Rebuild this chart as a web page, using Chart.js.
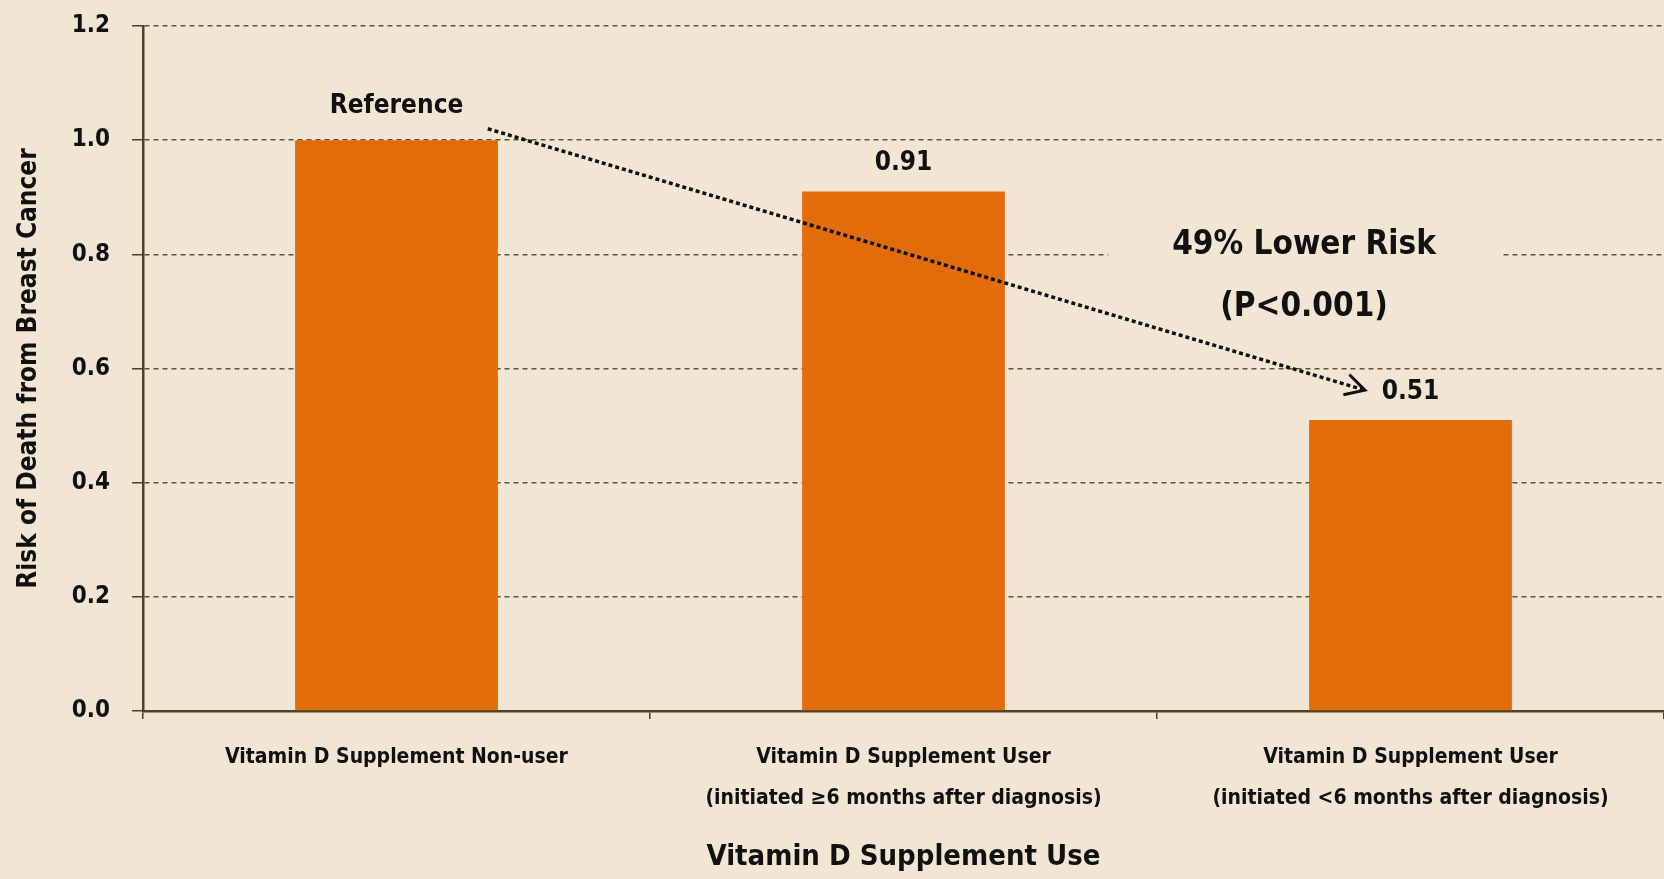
<!DOCTYPE html>
<html>
<head>
<meta charset="utf-8">
<script src="https://cdn.jsdelivr.net/npm/chart.js@4.4.1/dist/chart.umd.min.js"></script>
<style>
  html, body { margin: 0; padding: 0; background: #F0E6D3; }
  #wrap { width: 1664px; height: 879px; }
</style>
</head>
<body>
<div id="wrap"><canvas id="riskChart"></canvas></div>
<script>
// Data
const categories = [
    'Vitamin D Supplement Non-user',
    ['Vitamin D Supplement User', '(initiated \u22656 months after diagnosis)'],
    ['Vitamin D Supplement User', '(initiated <6 months after diagnosis)']
];
const riskValues = [1.0, 0.91, 0.51];
const valueLabels = ['Reference', '0.91', '0.51'];
const yTicks = [0, 0.2, 0.4, 0.6, 0.8, 1.0, 1.2];

// annotation: arrow from bar 1 toward bar 3, in (category index, value) units
const arrowFrom = [0.18, 1.02];
const arrowTo = [1.91, 0.562];
const noteLines = ['49% Lower Risk', '(P<0.001)'];
const notePos = [1.79, 0.815];

const FONT = '"DejaVu Sans Condensed", "Liberation Sans Narrow", "Roboto", sans-serif';
const BG = '#F0E6D3';
const INK = '#111111';

const labelPlugin = {
    id: 'barLabels',
    afterDatasetsDraw(chart) {
        const ctx = chart.ctx;
        const meta = chart.getDatasetMeta(0);
        const x = chart.scales.x;
        const y = chart.scales.y;
        ctx.save();

        // value labels above bars
        ctx.fillStyle = INK;
        ctx.font = 'bold 26px ' + FONT;
        ctx.textAlign = 'center';
        ctx.textBaseline = 'middle';
        meta.data.forEach(function(bar, i) {
            const off = i === 0 ? 34 : 28;
            ctx.fillText(valueLabels[i], bar.x, bar.y - off);
        });

        // annotation text with a background box over the gridlines
        ctx.font = 'bold 33px ' + FONT;
        const nx = x.getPixelForValue(notePos[0]);
        const ny = y.getPixelForValue(notePos[1]);
        const w = Math.max.apply(null, noteLines.map(function(t) { return ctx.measureText(t).width; }));
        ctx.fillStyle = BG;
        ctx.fillRect(nx - w / 2 - 64, ny - 30, w + 128, 62 + 30);
        ctx.fillStyle = INK;
        noteLines.forEach(function(t, i) {
            ctx.fillText(t, nx, ny + i * 62);
        });

        // dotted arrow
        const x1 = x.getPixelForValue(arrowFrom[0]);
        const y1 = y.getPixelForValue(arrowFrom[1]);
        const x2 = x.getPixelForValue(arrowTo[0]);
        const y2 = y.getPixelForValue(arrowTo[1]);
        ctx.strokeStyle = INK;
        ctx.lineWidth = 3.5;
        ctx.setLineDash([4, 3]);
        ctx.beginPath();
        ctx.moveTo(x1, y1);
        ctx.lineTo(x2, y2);
        ctx.stroke();
        ctx.setLineDash([]);
        const ang = Math.atan2(y2 - y1, x2 - x1);
        const len = 22;
        ctx.lineWidth = 3;
        ctx.beginPath();
        ctx.moveTo(x2 - len * Math.cos(ang - 0.5), y2 - len * Math.sin(ang - 0.5));
        ctx.lineTo(x2, y2);
        ctx.lineTo(x2 - len * Math.cos(ang + 0.5), y2 - len * Math.sin(ang + 0.5));
        ctx.stroke();

        ctx.restore();
    }
};

document.addEventListener('DOMContentLoaded', function() {
    const ctx = document.getElementById('riskChart');

    new Chart(ctx, {
        type: 'bar',
        data: {
            labels: categories,
            datasets: [{
                label: 'Risk',
                data: riskValues,
                backgroundColor: '#E36C0A',
                borderWidth: 0,
                categoryPercentage: 1.0,
                barPercentage: 0.4
            }]
        },
        options: {
            responsive: true,
            maintainAspectRatio: false,
            animation: false,
            layout: {
                padding: { top: 26, right: 0, bottom: 0, left: 0 }
            },
            plugins: {
                legend: { display: false },
                tooltip: { enabled: false }
            },
            scales: {
                y: {
                    min: 0,
                    max: 1.2,
                    afterFit: function(scale) {
                        scale.width = 143;
                        scale.paddingTop = 0;
                        scale.paddingBottom = 0;
                    },
                    afterBuildTicks: function(scale) {
                        scale.ticks = yTicks.map(function(v) { return { value: v }; });
                    },
                    ticks: {
                        color: INK,
                        padding: 22,
                        font: { family: FONT, size: 24, weight: 'bold' },
                        callback: function(v) { return Number(v).toFixed(1); }
                    },
                    grid: {
                        color: '#5C5439',
                        lineWidth: 1.5,
                        tickColor: '#4A4329',
                        tickLength: 11
                    },
                    border: {
                        color: '#4A4329',
                        width: 2.5,
                        dash: [5, 4]
                    },
                    title: {
                        display: true,
                        text: 'Risk of Death from Breast Cancer',
                        color: INK,
                        padding: { top: 14, bottom: 0 },
                        font: { family: FONT, size: 26, weight: 'bold' }
                    }
                },
                x: {
                    afterFit: function(scale) { scale.height = 168; },
                    ticks: {
                        color: INK,
                        padding: 18,
                        font: { family: FONT, size: 21, weight: 'bold', lineHeight: 1.95 },
                        maxRotation: 0,
                        autoSkip: false
                    },
                    grid: {
                        offset: true,
                        drawOnChartArea: false,
                        drawTicks: true,
                        tickLength: 8,
                        tickColor: '#4A4329',
                        lineWidth: 1.5
                    },
                    border: {
                        color: '#4A4329',
                        width: 2.5
                    },
                    title: {
                        display: true,
                        text: 'Vitamin D Supplement Use',
                        color: INK,
                        padding: { top: 0, bottom: 4 },
                        font: { family: FONT, size: 29, weight: 'bold' }
                    }
                }
            }
        },
        plugins: [labelPlugin]
    });
});
</script>
</body>
</html>
